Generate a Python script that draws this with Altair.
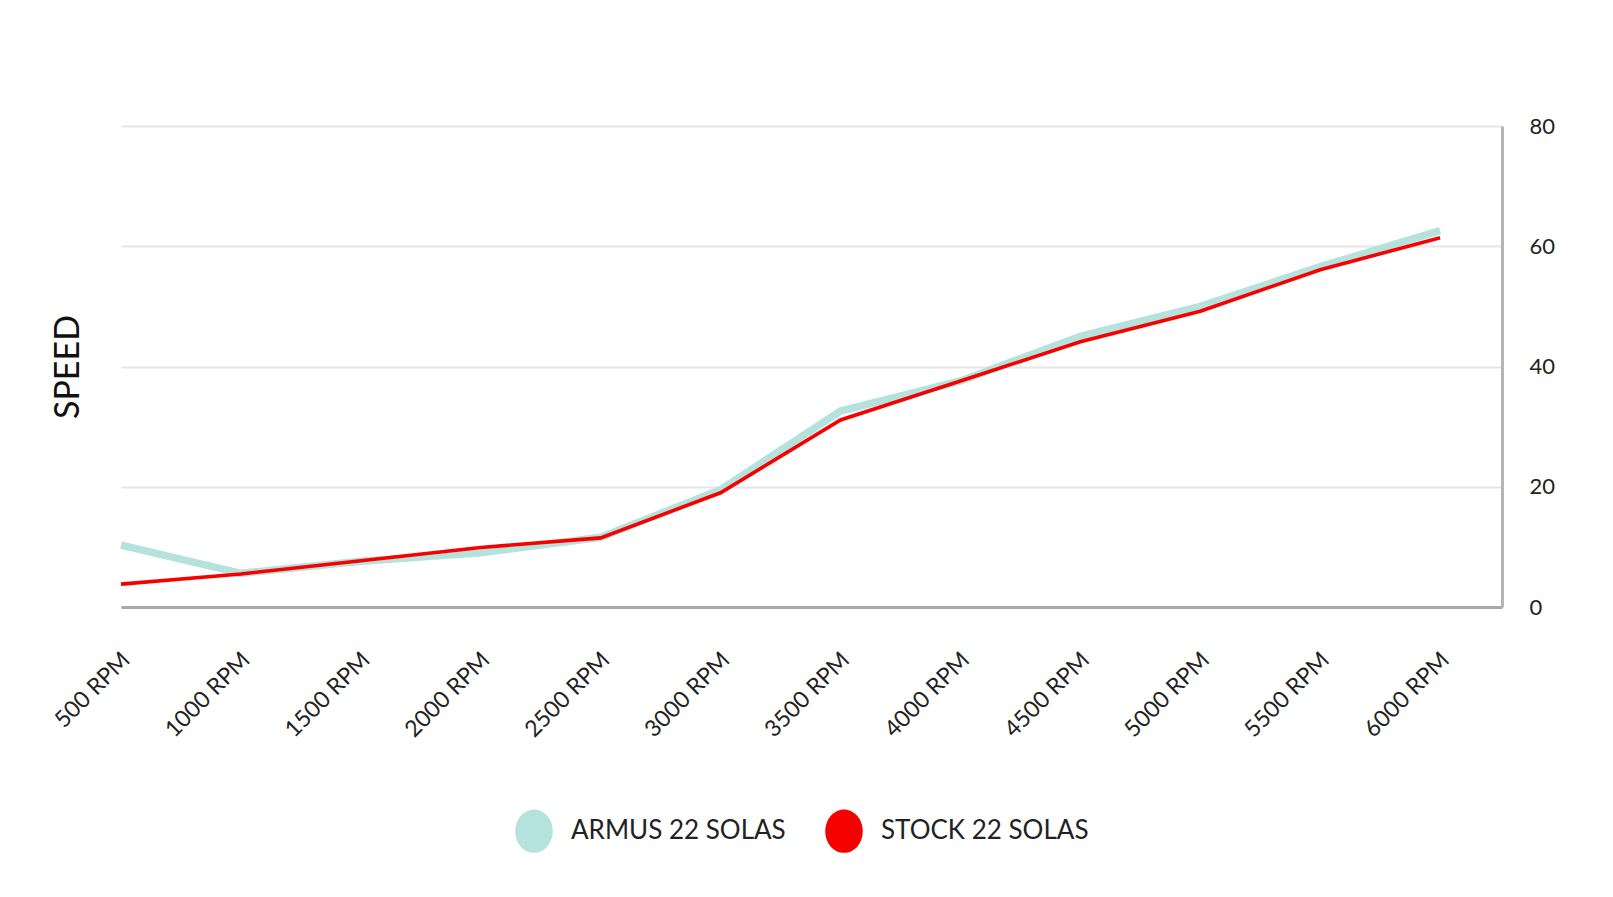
import altair as alt
import pandas as pd

rpm = [500, 1000, 1500, 2000, 2500, 3000, 3500, 4000, 4500, 5000, 5500, 6000]
armus = [10.3, 5.6, 7.6, 9.0, 11.6, 19.5, 32.6, 37.6, 45.0, 50.0, 56.6, 62.6]
stock = [3.8, 5.5, 7.7, 9.9, 11.5, 19.0, 31.1, 37.6, 44.1, 49.2, 56.1, 61.4]
series = ["ARMUS 22 SOLAS", "STOCK 22 SOLAS"]
colors = ["#b5e2dc", "#f70000"]
widths = [7.5, 3.6]
y_ticks = [0, 20, 40, 60, 80]

rows = []
for r, a, s in zip(rpm, armus, stock):
    rows.append({"rpm": r, "speed": a, "series": series[0]})
    rows.append({"rpm": r, "speed": s, "series": series[1]})
df = pd.DataFrame(rows)

FONT = "Lato"
ELLIPSE = "M -0.862 0 A 0.862 1 0 1 0 0.862 0 A 0.862 1 0 1 0 -0.862 0 Z"

x = alt.X("rpm:Q", scale=alt.Scale(domain=[500, 6258], nice=False, zero=False),
          axis=alt.Axis(values=rpm, labelExpr="datum.value + ' RPM'", labelAngle=-45,
                        labelAlign="right", labelBaseline="middle", labelPadding=49,
                        labelOffset=5, labelFontSize=23, labelColor="#222", labelFont=FONT,
                        ticks=False, grid=False, domainColor="#a9a9a9", domainWidth=3,
                        title=None, labelOverlap=False))

yscale = alt.Scale(domain=[0, 80], nice=False)

right_axis = alt.Axis(orient="right", values=y_ticks, ticks=False,
                      labelPadding=27, labelFontSize=22, labelColor="#222",
                      labelFont=FONT, gridColor="#e6e6e6", gridWidth=2,
                      domainColor="#b5b5b5", domainWidth=3, title=None)

line_layers = []
for i, (name, col, w) in enumerate(zip(series, colors, widths)):
    line_layers.append(
        alt.Chart(df).transform_filter(alt.datum.series == name)
        .mark_line(color=col, strokeWidth=w, strokeCap="butt", strokeJoin="miter")
        .encode(x=x, y=alt.Y("speed:Q", scale=yscale,
                             axis=right_axis if i == 0 else None))
    )

legend_layer = alt.Chart(df).mark_circle(size=0).encode(
    x=x,
    y=alt.Y("speed:Q", scale=yscale, axis=None),
    color=alt.Color("series:N", scale=alt.Scale(domain=series, range=colors),
                    legend=alt.Legend(orient="none", legendX=391, legendY=683,
                                      direction="horizontal", title=None,
                                      symbolType=ELLIPSE, symbolSize=1892,
                                      symbolStrokeWidth=0, symbolOpacity=1,
                                      labelFontSize=26, labelFont=FONT,
                                      labelColor="#222", labelOffset=15,
                                      labelLimit=500, columnPadding=36, padding=0)),
)

title_layer = alt.Chart(df).mark_line(opacity=0).encode(
    x=x,
    y=alt.Y("speed:Q", scale=yscale,
            axis=alt.Axis(orient="left", labels=False, ticks=False, domain=False,
                          grid=False, title="SPEED", titleFontSize=34,
                          titleFont=FONT, titleFontWeight="normal",
                          titleColor="#111", titlePadding=36)),
    detail="series:N",
)

chart = alt.layer(*line_layers, legend_layer, title_layer).resolve_axis(y="independent").properties(
    width=1381, height=481,
    autosize=alt.AutoSizeParams(type="none"),
    padding={"left": 113, "top": 118, "right": 100, "bottom": 270},
).configure(font=FONT, view=alt.ViewConfig(stroke="transparent", strokeWidth=0))

chart.save("out.html", embed_options={"renderer": "svg", "actions": False})
